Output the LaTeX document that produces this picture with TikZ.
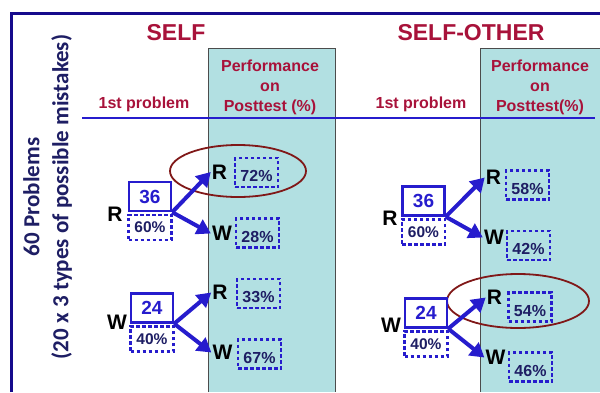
\documentclass[tikz,border=0pt]{standalone}
\usepackage{fontspec}
\setmainfont{Liberation Sans}
\newfontfamily\calibri{Carlito}
\usetikzlibrary{arrows.meta,positioning}
\definecolor{crimson}{RGB}{168,18,58}
\definecolor{navy}{RGB}{30,30,100}
\definecolor{frameblue}{RGB}{22,10,140}
\definecolor{treeblue}{RGB}{38,28,205}
\definecolor{panelteal}{RGB}{178,224,226}
\definecolor{ringred}{RGB}{128,24,24}
\begin{document}
\begin{tikzpicture}[x=1pt,y=-1pt,
    title/.style={crimson,font=\bfseries\fontsize{23}{26}\selectfont},
    head/.style={crimson,font=\bfseries\fontsize{16}{20}\selectfont,align=center},
    count/.style={draw=treeblue,line width=2.4pt,minimum width=42pt,minimum height=29pt,inner sep=0pt,
        text=treeblue,font=\bfseries\fontsize{19}{22}\selectfont},
    share/.style={draw=treeblue,line width=2.4pt,dash pattern=on 3.5pt off 2.5pt,minimum width=43pt,
        minimum height=25pt,inner sep=0pt,text=navy,font=\bfseries\fontsize{15.5}{18}\selectfont},
    result/.style={share,minimum height=29pt,text height=18pt,text depth=0pt,
        font=\bfseries\fontsize{16}{18}\selectfont},
    answer/.style={inner sep=1pt,font=\bfseries\fontsize{21}{24}\selectfont},
    arr/.style={treeblue,line width=4pt,-{Triangle[length=14pt,width=16pt]}},
    ring/.style={ringred,line width=1.8pt}]
    \useasboundingbox (0,0) rectangle (600,392);
    % Posttest columns
    \fill[panelteal] (208,48) rectangle (335,392);
    \fill[panelteal] (480,48) rectangle (600,392);
    \draw[gray!60!black,line width=0.9pt] (208,392) -- (208,48) -- (335,48) -- (335,392);
    \draw[gray!60!black,line width=0.9pt] (480,392) -- (480,48) -- (600,48);
    % Frame
    \draw[frameblue,line width=3pt] (11.5,392) -- (11.5,13.5) -- (600,13.5);
    % Side label
    \node[rotate=90,navy,font=\calibri\bfseries\fontsize{23}{29}\selectfont,align=center] (side) at (47.5,197)
        {60 Problems\\(20 x 3 types of possible mistakes)};
    % Headings
    \node[title] (selfT) at (176,33) {SELF};
    \node[title] (otherT) at (471,33) {SELF-OTHER};
    \node[head] (firstA) at (144,104) {1st problem};
    \node[head] (firstB) at (421,104) {1st problem};
    \node[head] (postA) at (270,87) {Performance\\on\\Posttest (\%)};
    \node[head] (postB) at (540,87) {Performance\\on\\Posttest(\%)};
    \draw[treeblue,line width=1.4pt] (82,118) -- (595,118);
    % Highlights
    \draw[ring] (238,171) ellipse [x radius=68pt,y radius=26pt];
    \draw[ring] (518,301) ellipse [x radius=71pt,y radius=27pt];
    % SELF: first problem
    \node[count] (sR) at (150,196.5) {36};
    \node[share,below=1.5pt of sR] (sRp) {60\%};
    \node[answer] (sRl) at (115,214) {R};
    \node[count] (sW) at (152,308) {24};
    \node[share,below=1.5pt of sW] (sWp) {40\%};
    \node[answer] (sWl) at (117,322) {W};
    % SELF: posttest
    \node[answer] (sRR) at (219.5,172) {R};
    \node[result] at (256.5,172.5) {72\%};
    \node[answer] (sRW) at (222,233.5) {W};
    \node[result] at (257.5,233) {28\%};
    \node[answer] (sWR) at (220,292.5) {R};
    \node[result] at (258.5,293.5) {33\%};
    \node[answer] (sWW) at (222.5,352.5) {W};
    \node[result] at (259.5,354) {67\%};
    \draw[arr] (sR.south east) -- (sRR.west);
    \draw[arr] (sR.south east) -- (sRW.west);
    \draw[arr] (sW.south east) -- (sWR.west);
    \draw[arr] (sW.south east) -- (sWW.west);
    % SELF-OTHER: first problem
    \node[count] (oR) at (423.5,201) {36};
    \node[share,below=1.5pt of oR] (oRp) {60\%};
    \node[answer] (oRl) at (390,218.5) {R};
    \node[count] (oW) at (426,313) {24};
    \node[share,below=1.5pt of oW] (oWp) {40\%};
    \node[answer] (oWl) at (391,325.5) {W};
    % SELF-OTHER: posttest
    \node[answer] (oRR) at (493.5,177.5) {R};
    \node[result] at (527.5,185) {58\%};
    \node[answer] (oRW) at (494,237.5) {W};
    \node[result] at (528.5,245.5) {42\%};
    \node[answer] (oWR) at (494.5,297.5) {R};
    \node[result] at (530,307) {54\%};
    \node[answer] (oWW) at (495.5,357.5) {W};
    \node[result] at (530.5,367) {46\%};
    \draw[arr] (oR.south east) -- (oRR.west);
    \draw[arr] (oR.south east) -- (oRW.west);
    \draw[arr] (oW.south east) -- (oWR.west);
    \draw[arr] (oW.south east) -- (oWW.west);
\end{tikzpicture}
\end{document}
